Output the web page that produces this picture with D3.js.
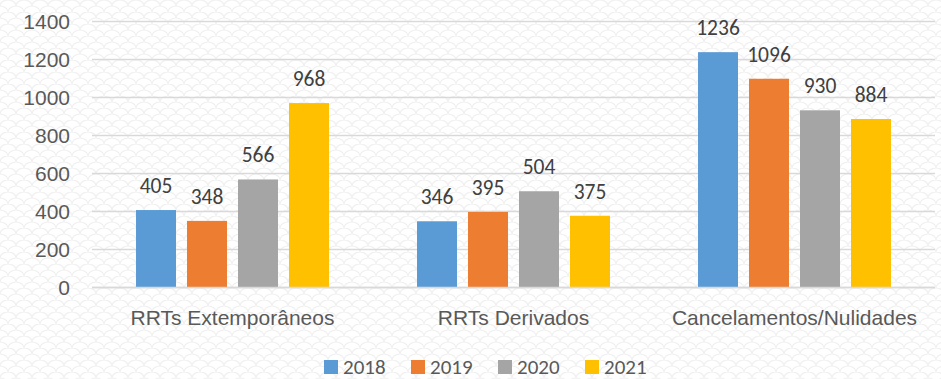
<!DOCTYPE html>
<html>
<head>
<meta charset="utf-8">
<script src="https://cdn.jsdelivr.net/npm/d3@7"></script>
<style>
  html, body { margin: 0; padding: 0; background: #fff; }
  svg { display: block; font-family: Carlito, Lato, "Open Sans", sans-serif; }
</style>
</head>
<body>
<svg id="chart" width="941" height="379"></svg>
<script>
// Processos por tipo e ano
const categories = ["RRTs Extemporâneos", "RRTs Derivados", "Cancelamentos/Nulidades"];
const years = ["2018", "2019", "2020", "2021"];
const values2018 = [405, 346, 1236];
const values2019 = [348, 395, 1096];
const values2020 = [566, 504, 930];
const values2021 = [968, 375, 884];
const yTicks = [0, 200, 400, 600, 800, 1000, 1200, 1400];
const colors = ["#5B9BD5", "#ED7D31", "#A5A5A5", "#FFC000"];

const seriesValues = [values2018, values2019, values2020, values2021];

const W = 941, H = 379;
const svg = d3.select("#chart");

// faint fish-scale texture behind the chart
const defs = svg.append("defs");
const pat = defs.append("pattern")
  .attr("id", "scales").attr("patternUnits", "userSpaceOnUse")
  .attr("width", 16).attr("height", 12);
const scalePath = "M0,6 A8,6 0 0,1 16,6 M-8,12 A8,6 0 0,1 8,12 M8,12 A8,6 0 0,1 24,12 M-8,0 A8,6 0 0,1 8,0 M8,0 A8,6 0 0,1 24,0";
pat.append("path").attr("d", scalePath)
  .attr("fill", "none").attr("stroke", "#f0f0f0").attr("stroke-width", 1.2);
svg.append("rect").attr("width", W).attr("height", H).attr("fill", "#fff");
svg.append("rect").attr("width", W).attr("height", H).attr("fill", "url(#scales)");

const y = d3.scaleLinear().domain([0, 1400]).range([287, 21]);
const x0 = d3.scaleBand().domain(categories).range([92, 935]).paddingInner(0).paddingOuter(0);
const x1 = d3.scaleBand().domain(years).range([0, x0.bandwidth()])
  .paddingInner(0.216).paddingOuter(0.863);

// gridlines
svg.append("g")
  .selectAll("line").data(yTicks).join("line")
  .attr("x1", 92).attr("x2", 935)
  .attr("y1", d => Math.round(y(d)) + 0.5).attr("y2", d => Math.round(y(d)) + 0.5)
  .attr("stroke", "#d9d9d9").attr("stroke-width", 1.3);

// y axis labels
const yAxis = d3.axisLeft(y).tickValues(yTicks).tickFormat(d3.format("d")).tickSize(0).tickPadding(0);
const gy = svg.append("g").attr("transform", "translate(70,0)").call(yAxis);
gy.select(".domain").remove();
gy.selectAll("text")
  .attr("fill", "#595959").attr("font-size", 21)
  .attr("dy", "0.36em");

// bars with value labels
const groups = svg.append("g").selectAll("g").data(categories).join("g")
  .attr("transform", d => `translate(${x0(d)},0)`);

groups.each(function(cat, ci) {
  const g = d3.select(this);
  years.forEach((yr, si) => {
    const v = seriesValues[si][ci];
    g.append("rect")
      .attr("x", x1(yr)).attr("width", x1.bandwidth())
      .attr("y", y(v)).attr("height", y(0) - y(v))
      .attr("fill", colors[si]);
    g.append("text")
      .attr("x", x1(yr) + x1.bandwidth() / 2)
      .attr("y", y(v) - 17)
      .attr("text-anchor", "middle")
      .attr("fill", "#404040").attr("font-size", 21.5)
      .text(v);
  });
});

// baseline
svg.append("line").attr("x1", 92).attr("x2", 935)
  .attr("y1", 287.5).attr("y2", 287.5)
  .attr("stroke", "#d9d9d9").attr("stroke-width", 1.3);

// category axis
const xAxis = d3.axisBottom(x0).tickSize(0).tickPadding(0);
const gx = svg.append("g").attr("transform", "translate(0,325)").call(xAxis);
gx.select(".domain").remove();
gx.selectAll("text").attr("fill", "#595959").attr("font-size", 21).attr("dy", 0);

// legend
const legendX = [324, 411, 498, 585];
const legend = svg.append("g").selectAll("g").data(years).join("g")
  .attr("transform", (d, i) => `translate(${legendX[i]},360)`);
legend.append("rect").attr("width", 14).attr("height", 14).attr("fill", (d, i) => colors[i]);
legend.append("text").attr("x", 19).attr("y", 14)
  .attr("fill", "#595959").attr("font-size", 21).text(d => d);
</script>
</body>
</html>
